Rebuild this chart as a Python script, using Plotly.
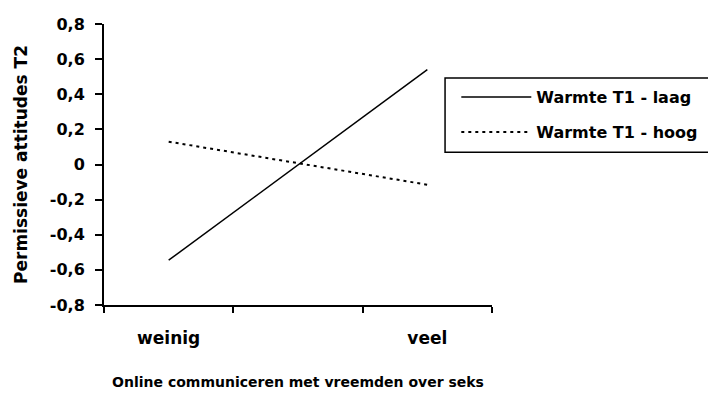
import plotly.graph_objects as go

# categories on the x axis (middle one is an empty slot, as in the original chart)
categories = ["weinig", " ", "veel"]
x_points = ["weinig", "veel"]

laag = [-0.545, 0.54]
hoog = [0.13, -0.115]

y_ticks = [-0.8, -0.6, -0.4, -0.2, 0, 0.2, 0.4, 0.6, 0.8]
y_ticktext = ["-0,8", "-0,6", "-0,4", "-0,2", "0", "0,2", "0,4", "0,6", "0,8"]

font_family = "DejaVu Sans, Arial, sans-serif"


def bold(size):
    return dict(family=font_family, size=size, color="black", weight="bold")


fig = go.Figure()

fig.add_trace(go.Scatter(
    x=x_points, y=laag,
    mode="lines",
    name="Warmte T1 - laag",
    legendgroup="laag",
    line=dict(color="black", width=1.5),
))

fig.add_trace(go.Scatter(
    x=x_points, y=hoog,
    mode="lines",
    name="Warmte T1 - hoog",
    legendgroup="hoog",
    line=dict(color="black", width=2, dash="3px,4px"),
))

# legend frame drawn separately so it can be padded like the original
fig.add_shape(
    type="rect", xref="paper", yref="paper",
    x0=0.879, x1=1.567, y0=0.544, y1=0.808,
    line=dict(color="black", width=1.5),
    fillcolor="white", layer="below",
)

# the page body has an 8px margin, so the figure is 8px smaller than the window
fig.update_layout(
    width=708,
    height=393,
    margin=dict(l=96, r=224, t=16, b=96),
    paper_bgcolor="white",
    plot_bgcolor="white",
    font=bold(15),
    legend=dict(
        x=0.908, y=0.80,
        xanchor="left", yanchor="top",
        borderwidth=0,
        bgcolor="rgba(0,0,0,0)",
        font=bold(16),
        itemwidth=70,
        traceorder="grouped",
        tracegroupgap=11,
    ),
)

fig.update_xaxes(
    type="category",
    categoryorder="array",
    categoryarray=categories,
    range=[-0.5, 2.5],
    tickson="boundaries",
    ticks="outside",
    ticklen=6,
    tickwidth=1.5,
    tickcolor="black",
    showline=True,
    linecolor="black",
    linewidth=2,
    showgrid=False,
    zeroline=False,
    automargin=False,
    tickfont=bold(17),
    ticklabelstandoff=17,
    title=dict(text="Online communiceren met vreemden over seks",
               font=bold(14), standoff=30),
)

fig.update_yaxes(
    range=[-0.8, 0.8],
    tickvals=y_ticks,
    ticktext=y_ticktext,
    ticks="outside",
    ticklen=7,
    tickwidth=1.5,
    tickcolor="black",
    showline=True,
    linecolor="black",
    linewidth=2,
    showgrid=False,
    zeroline=False,
    automargin=False,
    tickfont=bold(16),
    ticklabelstandoff=7,
    title=dict(text="Permissieve attitudes T2", font=bold(17), standoff=18),
)

fig.write_html("out.html")
